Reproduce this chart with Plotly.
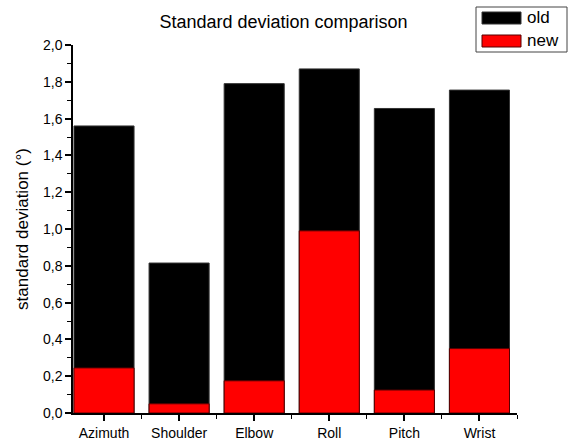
import plotly.graph_objects as go

categories = ["Azimuth", "Shoulder", "Elbow", "Roll", "Pitch", "Wrist"]
old_sd = [1.56, 0.815, 1.79, 1.87, 1.655, 1.755]
new_sd = [0.245, 0.05, 0.175, 0.99, 0.125, 0.35]
y_ticks = [0.0, 0.2, 0.4, 0.6, 0.8, 1.0, 1.2, 1.4, 1.6, 1.8, 2.0]

xpos = list(range(len(categories)))
FONT = "Liberation Sans, Arial, sans-serif"

fig = go.Figure()
fig.add_trace(go.Bar(x=xpos, y=old_sd, name="old", width=0.8,
                     marker=dict(color="black", line=dict(color="#333333", width=1))))
fig.add_trace(go.Bar(x=xpos, y=new_sd, name="new", width=0.8,
                     marker=dict(color="#ff0000", line=dict(color="#550000", width=1))))

fig.update_layout(
    width=575, height=443,
    margin=dict(l=73, r=58, t=45, b=30, autoexpand=False),
    barmode="overlay",
    showlegend=False,
    plot_bgcolor="white", paper_bgcolor="white",
    separators=",.",
    font=dict(family=FONT, size=14, color="black"),
    title=dict(text="Standard deviation comparison", x=0.493, xanchor="center",
               y=0.95, yanchor="middle", font=dict(size=18), automargin=False),
)
fig.update_xaxes(
    range=[-0.413, 5.5], tickvals=xpos, ticktext=categories,
    showline=True, linecolor="black", linewidth=1.5,
    ticks="outside", ticklen=6, tickwidth=1.5, tickcolor="black",
    minor=dict(tick0=0.5, dtick=1, ticks="outside", ticklen=4, tickwidth=1.2, tickcolor="black"),
    showgrid=False, zeroline=False, tickfont=dict(size=14), automargin=False,
)
fig.update_yaxes(
    range=[0, 2.0], tickvals=y_ticks, tickformat=".1f",
    showline=True, linecolor="black", linewidth=1.5,
    ticks="outside", ticklen=6, tickwidth=1.5, tickcolor="black",
    minor=dict(dtick=0.1, ticks="outside", ticklen=4, tickwidth=1.2, tickcolor="black"),
    showgrid=False, zeroline=False, tickfont=dict(size=14), automargin=False,
    title=dict(text="standard deviation (°)", font=dict(size=17), standoff=10),
)

# Legend box with large swatches
fig.add_shape(type="rect", xref="paper", yref="paper",
              x0=(476 - 73) / 444, x1=(567 - 73) / 444,
              y0=(413 - 52) / 368, y1=(413 - 7) / 368,
              line=dict(color="#444444", width=1), fillcolor="white")
legend_items = [("old", "black", "#333333", 18), ("new", "#ff0000", "#550000", 41)]
for label, fill, edge, cy in legend_items:
    fig.add_shape(type="rect", xref="paper", yref="paper",
                  x0=(482 - 73) / 444, x1=(521 - 73) / 444,
                  y0=(413 - cy - 6) / 368, y1=(413 - cy + 6) / 368,
                  line=dict(color=edge, width=1), fillcolor=fill)
    fig.add_annotation(text=label, xref="paper", yref="paper",
                       x=(525 - 73) / 444, y=(413 - cy) / 368,
                       xanchor="left", yanchor="middle", showarrow=False,
                       font=dict(size=17, family=FONT, color="black"))

fig.write_html("out.html")
